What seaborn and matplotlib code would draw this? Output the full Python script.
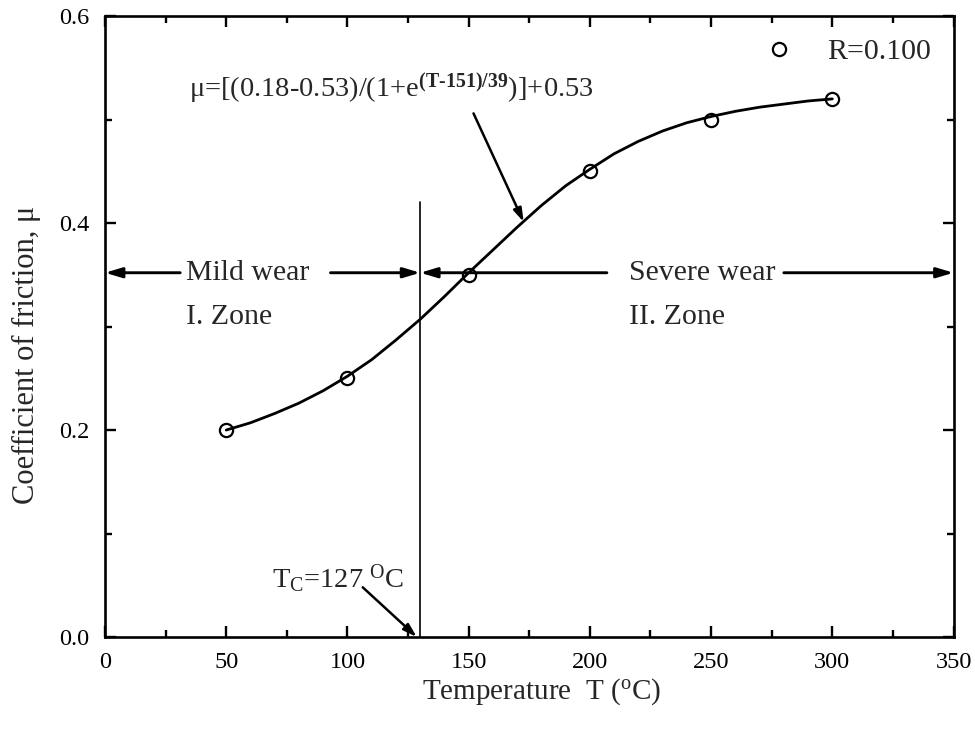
import matplotlib
matplotlib.use("Agg")
import matplotlib.pyplot as plt
import seaborn as sns
import numpy as np
import pandas as pd
from matplotlib.ticker import MultipleLocator

# measured points
temp_pts = [50, 100, 150, 200, 250, 300]
mu_pts = [0.20, 0.25, 0.35, 0.45, 0.50, 0.52]

# fitted curve
temp_fit = [50, 60, 70, 80, 90, 100, 110, 120, 130, 140, 150, 160, 170, 180,
            190, 200, 210, 220, 230, 240, 250, 260, 270, 280, 290, 300]
mu_fit = [0.200, 0.207, 0.216, 0.226, 0.238, 0.252, 0.268, 0.287, 0.307, 0.329,
          0.352, 0.374, 0.396, 0.417, 0.436, 0.452, 0.467, 0.479, 0.489, 0.497,
          0.503, 0.508, 0.512, 0.515, 0.518, 0.520]

legend_label = "R=0.100"
tc_line_x = 130
tc_line_top = 0.42

sns.set_style("ticks")
plt.rcParams['font.family'] = ['Liberation Serif', 'DejaVu Serif']
plt.rcParams['mathtext.fontset'] = 'custom'
plt.rcParams['mathtext.rm'] = 'Liberation Serif'
plt.rcParams['mathtext.it'] = 'Liberation Serif:italic'
plt.rcParams['mathtext.bf'] = 'Liberation Serif:bold'

fig = plt.figure(figsize=(9.75, 7.33), dpi=100)
ax = fig.add_axes([0.1077, 0.131, 0.8703, 0.847])

df_fit = pd.DataFrame({"T": temp_fit, "mu": mu_fit})
df_pts = pd.DataFrame({"T": temp_pts, "mu": mu_pts})

sns.lineplot(data=df_fit, x="T", y="mu", ax=ax, color="black", lw=2.0, legend=False)
sns.lineplot(data=df_pts, x="T", y="mu", ax=ax, linestyle="", marker="o",
             markerfacecolor="none", markeredgecolor="black", markeredgewidth=1.6,
             markersize=9.5, label=legend_label)

ax.set_xlim(0, 350)
ax.set_ylim(0, 0.6)
ax.xaxis.set_major_locator(MultipleLocator(50))
ax.xaxis.set_minor_locator(MultipleLocator(25))
ax.yaxis.set_major_locator(MultipleLocator(0.2))
ax.yaxis.set_minor_locator(MultipleLocator(0.1))
ax.yaxis.set_major_formatter(matplotlib.ticker.FormatStrFormatter('%.1f'))
ax.tick_params(which='both', direction='in', top=True, right=True, width=1.7,
               labelsize=17.5, colors='black')
ax.tick_params(which='major', length=8, pad=11)
ax.tick_params(which='minor', length=5)
for s in ax.spines.values():
    s.set_linewidth(1.9)
    s.set_color('black')

ax.set_xlabel(r"Temperature  T ($^\mathrm{o}$C)", fontsize=21)
ax.xaxis.set_label_coords(0.515, -0.064)
ax.set_ylabel(r"Coefficient of friction, μ", fontsize=22)
ax.yaxis.set_label_coords(-0.075, 0.454)

# critical temperature line
ax.plot([tc_line_x, tc_line_x], [0, tc_line_top], color='black', lw=1.2)

arrow_kw = dict(arrowstyle='-|>,head_length=1.0,head_width=0.3', color='black', lw=2.1,
                shrinkA=0, shrinkB=0)
ax.annotate("", xy=(0, 0.352), xytext=(31, 0.352), arrowprops=arrow_kw)
ax.annotate("", xy=(130, 0.352), xytext=(93, 0.352), arrowprops=arrow_kw)
ax.annotate("", xy=(130, 0.352), xytext=(207, 0.352), arrowprops=arrow_kw)
ax.annotate("", xy=(350, 0.352), xytext=(280, 0.352), arrowprops=arrow_kw)

tfs = 21.5
ax.text(33.5, 0.352, "Mild wear", fontsize=tfs, va='center', ha='left')
ax.text(33.5, 0.309, "I. Zone", fontsize=tfs, va='center', ha='left')
ax.text(216, 0.352, "Severe wear", fontsize=tfs, va='center', ha='left')
ax.text(216, 0.309, "II. Zone", fontsize=tfs, va='center', ha='left')

ax.text(34.5, 0.522, r"μ=[(0.18-0.53)/(1+e$^{\mathbf{(T\text{-}151)/39}}$)]+0.53",
        fontsize=20.5, va='baseline', ha='left')
ax.annotate("", xy=(172.7, 0.401), xytext=(152, 0.506),
            arrowprops=dict(arrowstyle='-|>,head_length=0.8,head_width=0.25',
                            color='black', lw=1.8, shrinkA=0, shrinkB=0))

ax.text(68.8, 0.048, r"T$_\mathrm{C}$=127 $^\mathrm{O}$C", fontsize=20.5,
        va='baseline', ha='left')
ax.annotate("", xy=(128.6, 0.0), xytext=(106.3, 0.048),
            arrowprops=dict(arrowstyle='-|>,head_length=0.8,head_width=0.25',
                            color='black', lw=1.8, shrinkA=0, shrinkB=0))

leg = ax.legend(loc='upper right', frameon=False, fontsize=tfs, handlelength=1.2,
                handletextpad=1.03, borderaxespad=0.55, borderpad=0.2)

fig.savefig("out.png", dpi=100)
